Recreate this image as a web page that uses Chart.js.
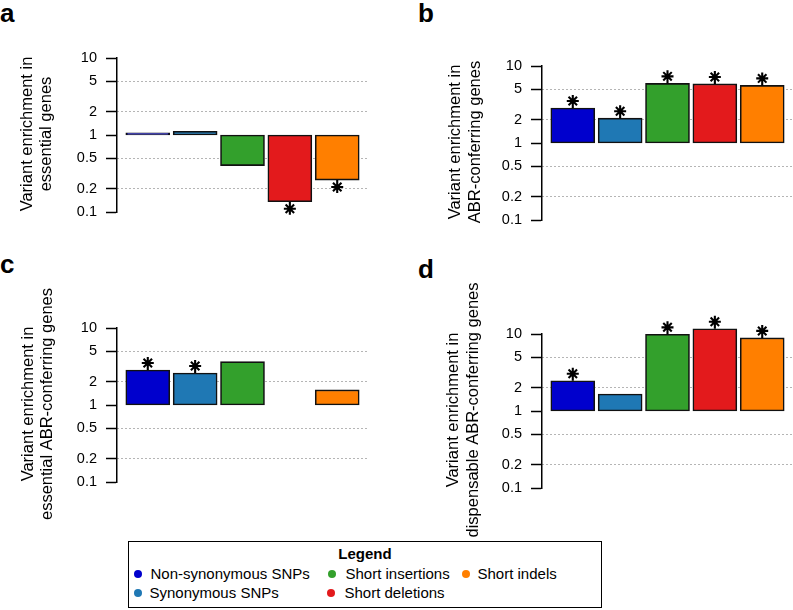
<!DOCTYPE html>
<html>
<head>
<meta charset="utf-8">
<script src="https://cdn.jsdelivr.net/npm/chart.js@4.4.1/dist/chart.umd.min.js"></script>
<style>
  body { margin: 0; background: #fff; font-family: "Liberation Sans", Arial, sans-serif; }
  #page { position: relative; width: 793px; height: 610px; overflow: hidden; }
  .panel { position: absolute; }
  .letter { position: absolute; font-weight: bold; font-size: 26px; line-height: 26px; color: #000; }
  #legend { position: absolute; left: 128px; top: 541px; width: 474px; height: 67px; box-sizing: border-box; border: 1.5px solid #000; background: #fff; }
  #legend .ttl { position: absolute; left: 0; width: 100%; top: 3px; text-align: center; font-weight: bold; font-size: 15px; line-height: 18px; }
  #legend .item { position: absolute; font-size: 15px; line-height: 18px; white-space: nowrap; }
  #legend .dot { position: absolute; width: 8px; height: 8px; border-radius: 50%; }
</style>
</head>
<body>
<div id="page">
  <div class="letter" style="left:0px; top:0px;">a</div>
  <div class="letter" style="left:418px; top:0px;">b</div>
  <div class="letter" style="left:0px; top:251px;">c</div>
  <div class="letter" style="left:418px; top:256px;">d</div>

  <div class="panel" style="left:0px; top:0px;"><canvas id="chartA" width="372" height="240"></canvas></div>
  <div class="panel" style="left:400px; top:0px;"><canvas id="chartB" width="393" height="240"></canvas></div>
  <div class="panel" style="left:0px; top:250px;"><canvas id="chartC" width="372" height="300"></canvas></div>
  <div class="panel" style="left:400px; top:250px;"><canvas id="chartD" width="393" height="300"></canvas></div>

  <div id="legend"></div>
</div>

<script>
// variant classes, same order in every panel
const categories = ["Non-synonymous SNPs", "Synonymous SNPs", "Short insertions", "Short deletions", "Short indels"];
const barColors = ["#0000CD", "#1F78B4", "#33A02C", "#E31A1C", "#FF7F00"];

// enrichment values (bars start at 1)
const enrichA = [1.07, 1.12, 0.40, 0.136, 0.26];
const enrichB = [2.85, 2.10, 5.95, 5.85, 5.60];
const enrichC = [2.85, 2.60, 3.65, null, 1.57];
const enrichD = [2.47, 1.66, 9.90, 11.7, 8.90];

// asterisk = significant
const sigA = [false, false, false, true, true];
const sigB = [true, true, true, true, true];
const sigC = [true, true, false, false, false];
const sigD = [true, false, true, true, true];

const yTicks = [0.1, 0.2, 0.5, 1, 2, 5, 10];
const gridAt = [0.2, 0.5, 2, 5];

const titleA = ["Variant enrichment in", "essential genes"];
const titleB = ["Variant enrichment in", "ABR-conferring genes"];
const titleC = ["Variant enrichment in", "essential ABR-conferring genes"];
const titleD = ["Variant enrichment in", "dispensable ABR-conferring genes"];

Chart.defaults.font.family = '"Liberation Sans", Arial, sans-serif';
Chart.defaults.color = "#000";

// asterisks with a short stem at the end of significant bars
const starPlugin = {
    id: "stars",
    afterDatasetsDraw(chart, args, opts) {
        const ctx = chart.ctx;
        const y = chart.scales.y, x = chart.scales.x;
        const r = 6;
        ctx.save();
        ctx.strokeStyle = "#000";
        ctx.lineWidth = 2.1;
        opts.values.forEach((v, i) => {
            if (v == null || !opts.sig[i]) return;
            const px = x.getPixelForValue(i);
            const py = y.getPixelForValue(v);
            const cy = py + (v > 1 ? -7 : 7);
            ctx.beginPath();
            ctx.moveTo(px, py);
            ctx.lineTo(px, cy);
            for (let k = 0; k < 4; k++) {
                const a = k * Math.PI / 4;
                ctx.moveTo(px - r * Math.cos(a), cy - r * Math.sin(a));
                ctx.lineTo(px + r * Math.cos(a), cy + r * Math.sin(a));
            }
            ctx.stroke();
        });
        ctx.restore();
    }
};

// two-line rotated y title, not squeezed to the axis height
const yTitlePlugin = {
    id: "yTitle",
    afterDraw(chart, args, opts) {
        const ctx = chart.ctx;
        const area = chart.chartArea;
        const cy = (area.top + area.bottom) / 2 - 1;
        ctx.save();
        ctx.fillStyle = "#000";
        ctx.font = '16.5px "Liberation Sans", Arial, sans-serif';
        ctx.textAlign = "center";
        ctx.textBaseline = "middle";
        opts.lines.forEach((line, i) => {
            ctx.save();
            ctx.translate(area.left - opts.offsets[i], cy);
            ctx.rotate(-Math.PI / 2);
            ctx.fillText(line, 0, 0);
            ctx.restore();
        });
        ctx.restore();
    }
};

function makePanel(id, values, sig, title, axisWidth, pad, offsets) {
    const points = [];
    const colors = [];
    values.forEach((v, i) => {
        if (v == null) return;
        points.push({ x: i, y: [1, v] });
        colors.push(barColors[i]);
    });
    return new Chart(document.getElementById(id), {
        type: "bar",
        data: {
            datasets: [{
                data: points,
                backgroundColor: colors,
                borderColor: "#111",
                borderWidth: 1.6,
                borderSkipped: false,
                barThickness: 44,
                clip: false,
            }],
        },
        options: {
            responsive: false,
            animation: false,
            layout: { padding: pad },
            plugins: {
                legend: { display: false },
                tooltip: { enabled: false },
                stars: { values: values, sig: sig },
                yTitle: { lines: title, offsets: offsets },
            },
            scales: {
                x: { type: "linear", min: -0.65, max: 4.65, offset: false, display: false },
                y: {
                    type: "logarithmic",
                    min: 0.1,
                    max: 10,
                    afterBuildTicks: axis => { axis.ticks = yTicks.map(v => ({ value: v })); },
                    afterFit: axis => { axis.width = axisWidth; },
                    ticks: {
                        autoSkip: false,
                        padding: 9,
                        font: { size: 14.5 },
                        callback: v => String(v),
                    },
                    grid: {
                        color: c => (c.tick && gridAt.includes(c.tick.value)) ? "#6a6a6a" : "rgba(0,0,0,0)",
                        tickColor: "#000",
                        tickWidth: 1.5,
                        tickLength: 11,
                        tickBorderDash: [],
                        lineWidth: 1,
                    },
                    border: { display: true, color: "#000", width: 1.5, dash: [1, 3] },
                },
            },
        },
        plugins: [starPlugin, yTitlePlugin],
    });
}

makePanel("chartA", enrichA, sigA, titleA, 117, { top: 58, bottom: 28, left: 0, right: 4 }, [90, 71]);
makePanel("chartB", enrichB, sigB, titleB, 142, { top: 66, bottom: 20, left: 0, right: 0 }, [87, 67]);
makePanel("chartC", enrichC, sigC, titleC, 117, { top: 78, bottom: 68, left: 0, right: 4 }, [89, 70]);
makePanel("chartD", enrichD, sigD, titleD, 142, { top: 84, bottom: 62, left: 0, right: 0 }, [89, 69]);

// legend box, three columns
const legendPos = [
    { dx: 138, tx: 151, y: 574 },
    { dx: 138, tx: 150, y: 593 },
    { dx: 332, tx: 346, y: 574 },
    { dx: 331, tx: 345, y: 593 },
    { dx: 466, tx: 478, y: 574 },
];
const legend = document.getElementById("legend");
legend.innerHTML = '<div class="ttl">Legend</div>';
categories.forEach((name, i) => {
    const p = legendPos[i];
    const dot = document.createElement("div");
    dot.className = "dot";
    dot.style.background = barColors[i];
    dot.style.left = (p.dx - 128 - 4 - 1.5) + "px";
    dot.style.top = (p.y - 541 - 4 - 1.5) + "px";
    legend.appendChild(dot);
    const item = document.createElement("div");
    item.className = "item";
    item.textContent = name;
    item.style.left = (p.tx - 128 - 1.5) + "px";
    item.style.top = (p.y - 541 - 9 - 1.5) + "px";
    legend.appendChild(item);
});
</script>
</body>
</html>
